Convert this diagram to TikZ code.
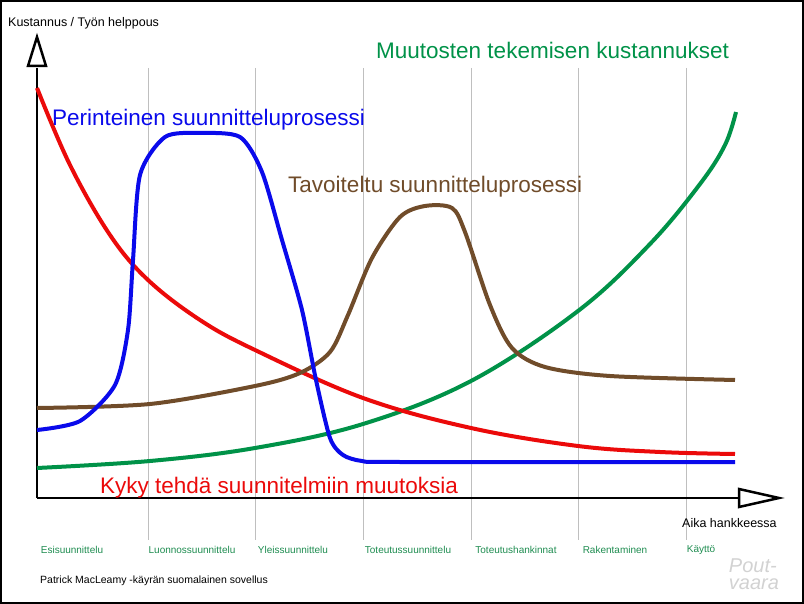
\documentclass[tikz,border=0pt]{standalone}
\usepackage{fontspec}
\setmainfont{Liberation Sans}
\usetikzlibrary{arrows.meta, positioning}
\definecolor{curvered}{RGB}{235,10,10}
\definecolor{curveblue}{RGB}{10,10,235}
\definecolor{curvebrown}{RGB}{112,76,42}
\definecolor{curvegreen}{RGB}{0,146,72}
\definecolor{phasegreen}{RGB}{30,140,80}
\begin{document}
\begin{tikzpicture}[x=1pt, y=-1pt,
curve/.style = {line width=4pt, line join=round},
phase/.style = {font=\fontsize{10}{11}\selectfont, text=phasegreen, inner sep=0pt},
title/.style = {font=\fontsize{22.5}{24}\selectfont, anchor=west, inner sep=0pt},
small/.style = {font=\fontsize{12.5}{13}\selectfont, anchor=west, inner sep=0pt},
                    ]
%---
\draw[line width=2pt] (1,1) rectangle (803,603);
\useasboundingbox (0,0) rectangle (804,604);
%------- grid
\foreach \gx in {148,255,363,471,578,686}
    \draw[gray!50, line width=0.6pt] (\gx,68) -- (\gx,540);
%------- axes
\draw[line width=1.8pt] (37,498) -- (37,68);
\draw[line width=1.8pt] (37,498) -- (738,498);
\draw[line width=2.5pt, fill=white, line join=miter] (37,37) -- (28,66) -- (46,66) -- cycle;
\draw[line width=2.5pt, fill=white, line join=miter] (779,498) -- (739,489) -- (739,507) -- cycle;
%------- curves
\draw[curve, curvegreen] plot[smooth, tension=0.6] coordinates
    {(37,468) (150,461) (255,448) (363,424) (471,381) (578,311) (650,244) (700,184) (725,145) (736,112)};
\draw[curve, curvered] plot[smooth, tension=0.6] coordinates
    {(37,88) (70,165) (110,235) (148,280) (200,320) (255,350) (363,398) (471,428) (578,446) (660,452) (735,454)};
\draw[curve, curvebrown] plot[smooth, tension=0.5] coordinates
    {(37,408) (150,404) (255,386) (300,373) (330,352) (348,315) (372,258) (400,217) (425,206) (452,208) (465,232) (490,305) (512,348) (545,367) (610,376) (735,380)};
\draw[curve, curveblue] plot[smooth, tension=0.45] coordinates
    {(37,430) (80,421) (115,385) (128,330) (133,260) (140,175) (165,137) (200,133) (240,137) (262,172) (282,240) (302,310) (316,380) (330,438) (343,455) (362,461) (400,462) (735,462)};
%------- texts
\node (costTitle) [title, text=curvegreen] at (376,50) {Muutosten tekemisen kustannukset};
\node (tradTitle) [title, text=curveblue]  at (52,120) {Perinteinen suunnitteluprosessi};
\node (goalTitle) [title, text=curvebrown] at (288,187) {Tavoiteltu suunnitteluprosessi};
\node (abilTitle) [title, text=curvered]   at (100,488) {Kyky tehdä suunnitelmiin muutoksia};
\node (yLabel)    [small] at (8,23)   {Kustannus / Työn helppous};
\node (xLabel)    [small] at (682,523) {Aika hankkeessa};
\node (source)    [small, font=\fontsize{10.5}{12}\selectfont] at (40,581)
    {Patrick MacLeamy -käyrän suomalainen sovellus};
%------- phases
\node (esi)  [phase] at (72,550)  {Esisuunnittelu};
\node (luon) [phase] at (192,550) {Luonnossuunnittelu};
\node (ylei) [phase] at (293,550) {Yleissuunnittelu};
\node (tote) [phase] at (408,550) {Toteutussuunnittelu};
\node (hank) [phase] at (516,550) {Toteutushankinnat};
\node (rake) [phase] at (615,550) {Rakentaminen};
\node (kayt) [phase] at (701,550) {Käyttö};
%------- logo
\node (logo) [font=\fontsize{20}{17}\itshape, text=gray!35, inner sep=0pt, align=left] at (754,574) {Pout-\\vaara};
\end{tikzpicture}
\end{document}
